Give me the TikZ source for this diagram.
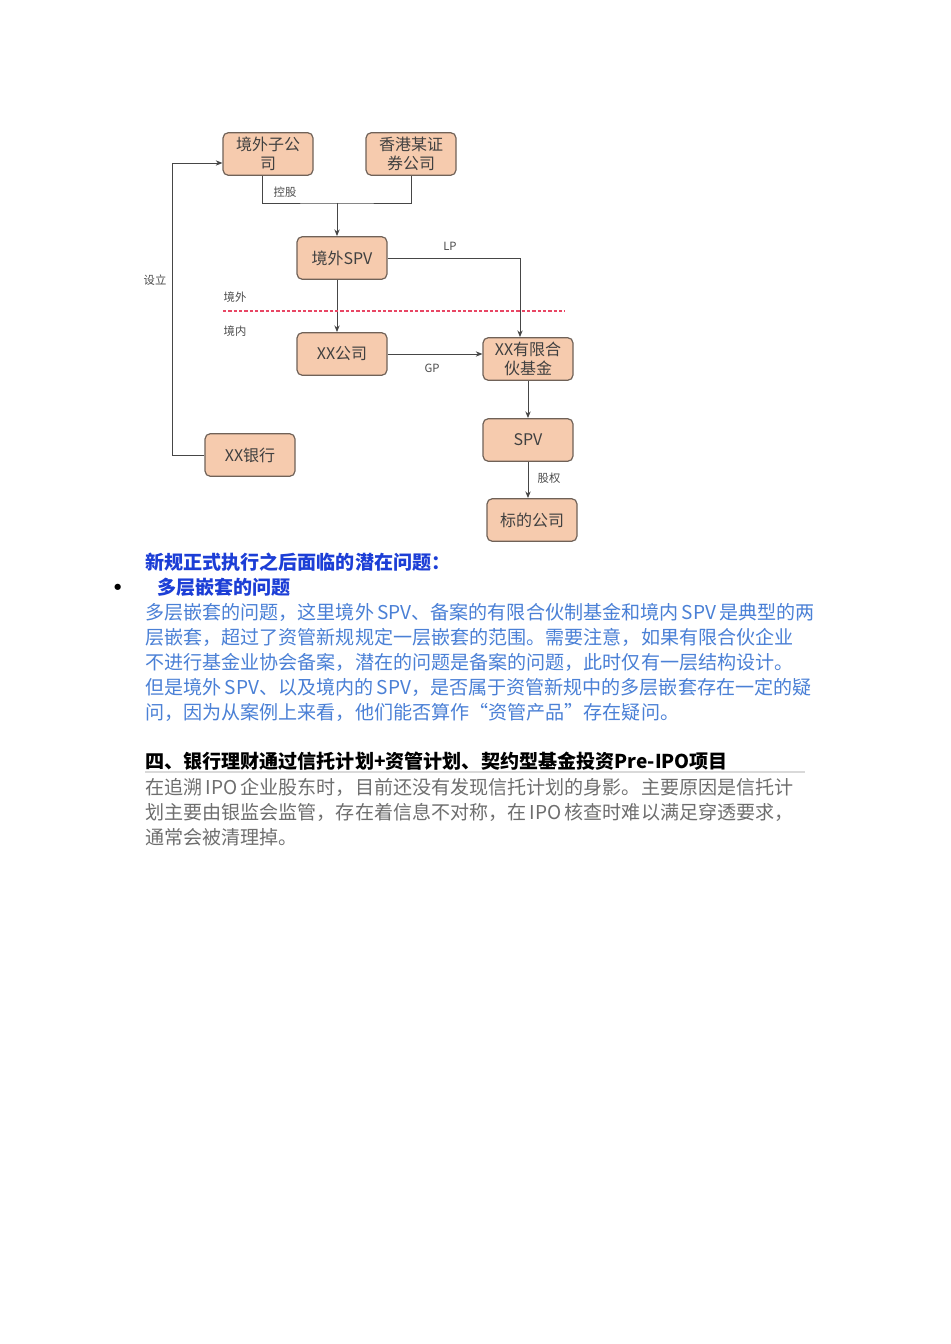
\documentclass[tikz,border=0pt]{standalone}
\usepackage{fontspec}
\setmainfont{Noto Sans CJK SC}
\usepackage{xcolor}
\usetikzlibrary{arrows.meta,positioning}
\definecolor{peach}{RGB}{246,203,174}
\definecolor{boxline}{RGB}{112,98,88}
\definecolor{wire}{RGB}{70,70,70}
\definecolor{headblue}{RGB}{28,62,214}
\definecolor{textblue}{RGB}{74,128,214}
\definecolor{textgray}{RGB}{110,110,110}
\definecolor{dashred}{RGB}{232,70,100}

\begin{document}
\begin{tikzpicture}[x=0.75pt,y=-0.75pt,
  firm/.style={draw=boxline,fill=peach,rounded corners=4pt,line width=0.9pt,
               minimum width=67.5pt,minimum height=32pt,align=center,inner sep=1pt,
               font=\fontsize{12}{14.5}\selectfont,text=black!75},
  link/.style={line width=0.7pt,wire},
  arr/.style={-{Stealth[length=5pt,width=4pt]},line width=0.7pt,wire},
  lbl/.style={font=\fontsize{8.5}{10}\selectfont,text=black!70},
  para/.style={anchor=west,inner sep=0pt,font=\fontsize{14.3}{17}\selectfont},
  hd/.style={para,font=\fontsize{14.3}{17}\selectfont\bfseries}]
\fill[white] (0,0) rectangle (950,1344);
% ownership chart
\node[firm] (zgs) at (268,154) {境外子公\\司};
\node[firm] (hk) at (411,154) {香港某证\\券公司};
\node[firm] (wspv) at (342,258) {境外SPV};
\node[firm] (xx) at (342,354) {XX公司};
\node[firm] (fund) at (528,359) {XX有限合\\伙基金};
\node[firm] (spv) at (528,440) {SPV};
\node[firm] (tgt) at (532,520) {标的公司};
\node[firm] (bank) at (250,455) {XX银行};
\coordinate (kg) at (337,203);
\coordinate (sl) at (172,163);
\draw[link] ([xshift=-4.5pt]zgs.south) |- (kg) -| (hk.south);
\draw[arr] (kg) -- (kg |- wspv.north);
\draw[arr] (wspv.south -| kg) -- (xx.north -| kg);
\draw[arr] (wspv.east) -| ([xshift=-6pt]fund.north);
\draw[arr] (xx.east) -- (xx.east -| fund.west);
\draw[arr] (fund.south) -- (spv.north);
\draw[arr] (spv.south) -- (spv.south |- tgt.north);
\draw[arr] (bank.west) -| (sl) -- (sl -| zgs.west);
\node[lbl] (kgl) at (285,192) {控股};
\node[lbl] (lp) at (450,246) {LP};
\node[lbl] (gp) at (432,368) {GP};
\node[lbl] (gq) at (549,478) {股权};
\node[lbl] (sll) at (155,280) {设立};
\node[lbl] (jw) at (235,297) {境外};
\node[lbl] (jn) at (235,331) {境内};
\draw[dashred,dash pattern=on 2.5pt off 1.5pt,line width=1pt] (223,311) -- (565,311);
% text below
\node[hd,headblue] (h1) at (145,562) {新规正式执行之后面临的潜在问题：};
\node[font=\fontsize{22}{22}\selectfont,inner sep=0pt] (dot) at (118,591) {•};
\node[hd,headblue] (h2) at (157,587) {多层嵌套的问题};
\node[para,textblue] (p1) at (145,612) {多层嵌套的问题，这里境外\,SPV、备案的有限合伙制基金和境内\,SPV\,是典型的两};
\node[para,textblue] (p2) at (145,637) {层嵌套，超过了资管新规规定一层嵌套的范围。需要注意，如果有限合伙企业};
\node[para,textblue] (p3) at (145,662) {不进行基金业协会备案，潜在的问题是备案的问题，此时仅有一层结构设计。};
\node[para,textblue] (p4) at (145,687) {但是境外\,SPV、以及境内的\,SPV，是否属于资管新规中的多层嵌套存在一定的疑};
\node[para,textblue] (p5) at (145,712) {问，因为从案例上来看，他们能否算作“资管产品”存在疑问。};
\node[hd] (h3) at (145,761) {四、银行理财通过信托计划+资管计划、契约型基金投资Pre-IPO项目};
\draw[black!15,line width=0.8pt] (145,772) -- (805,772);
\node[para,textgray] (q1) at (145,787) {在追溯\,IPO\,企业股东时，目前还没有发现信托计划的身影。主要原因是信托计};
\node[para,textgray] (q2) at (145,812) {划主要由银监会监管，存在着信息不对称，在\,IPO\,核查时难以满足穿透要求，};
\node[para,textgray] (q3) at (145,837) {通常会被清理掉。};
\end{tikzpicture}
\end{document}
